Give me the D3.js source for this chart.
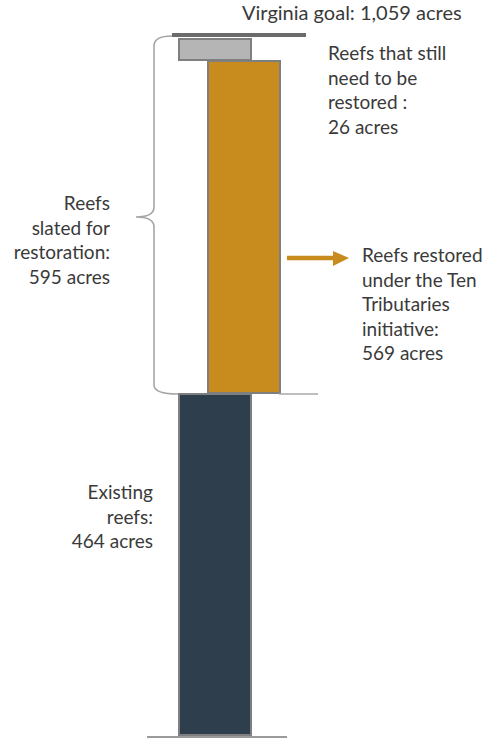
<!DOCTYPE html>
<html>
<head>
<meta charset="utf-8">
<script src="https://cdn.jsdelivr.net/npm/d3@7"></script>
<style>
  html, body { margin: 0; padding: 0; background: #fff; }
  svg { display: block; }
  text { font-family: Lato, "Open Sans", sans-serif; fill: #3a3a3a; }
</style>
</head>
<body>
<script>
// ---- data ----
const categories = ["Existing reefs", "Reefs restored under the Ten Tributaries initiative", "Reefs that still need to be restored"];
const values = [464, 569, 26];
const goal = 1059;
const slated = 595;
const labels = [
  ["Existing", "reefs:", "464 acres"],
  ["Reefs restored", "under the Ten", "Tributaries", "initiative:", "569 acres"],
  ["Reefs that still", "need to be", "restored :", "26 acres"]
];
const slatedLabel = ["Reefs", "slated for", "restoration:", "595 acres"];
const goalLabel = "Virginia goal: 1,059 acres";

// ---- layout ----
const W = 491, H = 749;
const svg = d3.select("body").append("svg").attr("width", W).attr("height", H);

// cumulative stacking
const stacks = [];
let acc = 0;
values.forEach((v, i) => { stacks.push({ cat: categories[i], v, y0: acc, y1: acc + v }); acc += v; });

// the infographic is drawn with its own (non-uniform) vertical stretch per segment
const y = d3.scaleLinear()
  .domain([0, stacks[0].y1, stacks[1].y1, stacks[2].y1])
  .range([736, 394, 61, 39]);

const x = d3.scaleOrdinal().domain(categories).range([179, 208, 179]);
const barW = 72;
const fills = d3.scaleOrdinal().domain(categories).range(["#2e3e4c", "#c88b1d", "#b5b5b5"]);

// goal line
svg.append("line")
  .attr("x1", 172).attr("x2", 306)
  .attr("y1", y(goal) - 4).attr("y2", y(goal) - 4)
  .attr("stroke", "#6b6b6b").attr("stroke-width", 4);

// bars
svg.selectAll("rect.bar").data(stacks).enter().append("rect")
  .attr("class", "bar")
  .attr("x", d => x(d.cat))
  .attr("y", d => y(d.y1))
  .attr("width", barW)
  .attr("height", d => y(d.y0) - y(d.y1) - 1)
  .attr("fill", d => fills(d.cat))
  .attr("stroke", "#7f7f7f").attr("stroke-width", 2);

// base line and split line
svg.append("line").attr("x1", 147).attr("x2", 287)
  .attr("y1", y(0) + 1).attr("y2", y(0) + 1)
  .attr("stroke", "#9a9a9a").attr("stroke-width", 2);
svg.append("line").attr("x1", 279).attr("x2", 318)
  .attr("y1", y(stacks[0].y1)).attr("y2", y(stacks[0].y1))
  .attr("stroke", "#a8a8a8").attr("stroke-width", 1.5);

// brace for slated reefs
const bTop = y(stacks[0].y1 + slated) - 1, bBot = y(stacks[0].y1) - 1;
const bx = 154, tipY = 217;
svg.append("path")
  .attr("d", `M172,${bTop - 2} Q${bx},${bTop - 2} ${bx},${bTop + 8}
              L${bx},${tipY - 10} Q${bx},${tipY} 136,${tipY}
              Q${bx},${tipY} ${bx},${tipY + 10}
              L${bx},${bBot - 8} Q${bx},${bBot + 1} 178,${bBot + 1}`)
  .attr("fill", "none").attr("stroke", "#a6a6a6").attr("stroke-width", 1.6);

// arrow
svg.append("line").attr("x1", 287).attr("x2", 335).attr("y1", 258).attr("y2", 258)
  .attr("stroke", "#c88b1d").attr("stroke-width", 4.5);
svg.append("path").attr("d", "M333,251 L349,258 L333,266 Z").attr("fill", "#c88b1d");

// texts
const fs = 19, lh = 24.5;
function block(lines, xPos, yFirst, anchor) {
  const t = svg.append("text").attr("font-size", fs).attr("text-anchor", anchor);
  lines.forEach((l, i) => t.append("tspan").attr("x", xPos).attr("y", yFirst + i * lh).text(l));
}
svg.append("text").attr("x", 242).attr("y", 20).attr("font-size", 20).text(goalLabel);
block(labels[2], 328, 60, "start");
block(labels[1], 362, 262, "start");
block(slatedLabel, 110, 210, "end");
block(labels[0], 153, 499, "end");
</script>
</body>
</html>
